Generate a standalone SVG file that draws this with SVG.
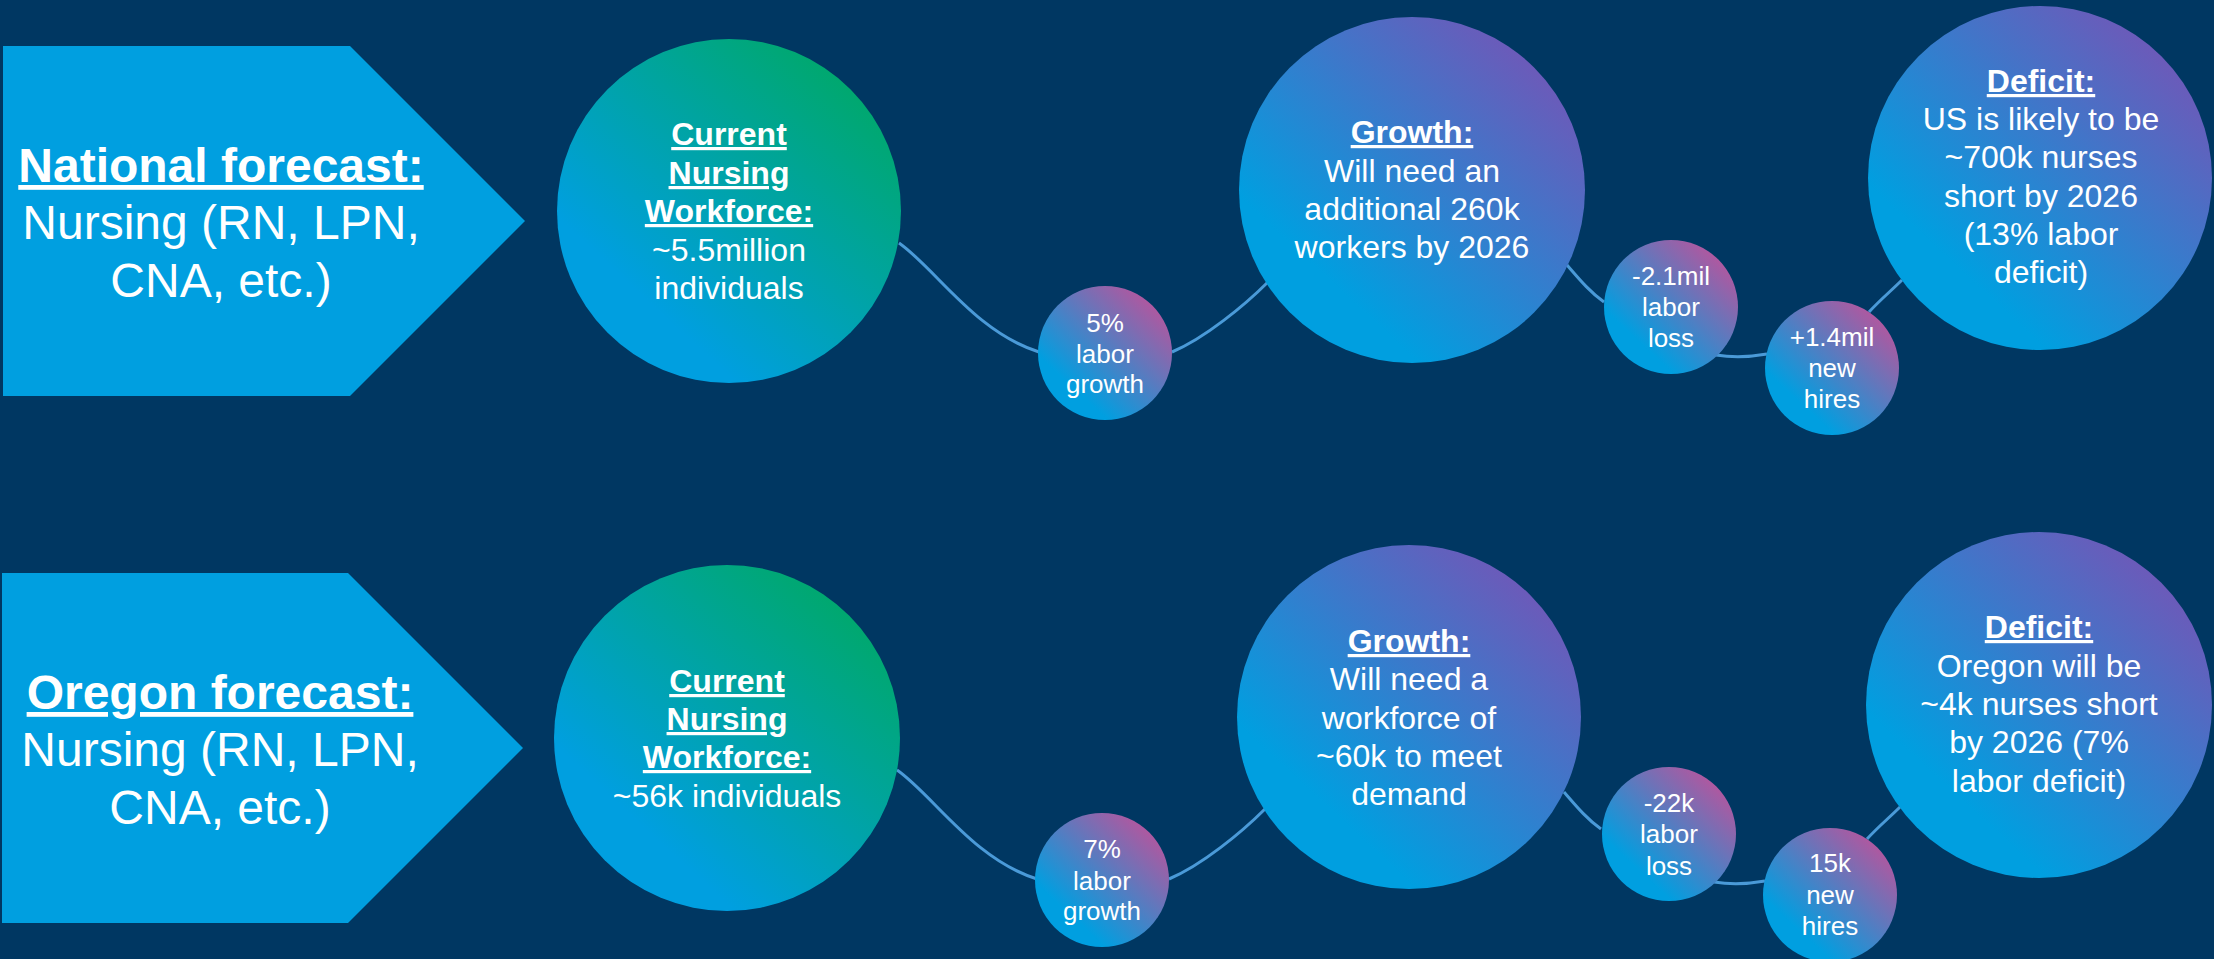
<svg xmlns="http://www.w3.org/2000/svg" width="2214" height="959" viewBox="0 0 2214 959">
  <defs>
    <linearGradient id="gGreen" x1="0.25" y1="0.75" x2="0.85" y2="0.1">
      <stop offset="0" stop-color="#009fe0"/>
      <stop offset="1" stop-color="#00a86b"/>
    </linearGradient>
    <linearGradient id="gPurple" x1="0.25" y1="0.75" x2="0.85" y2="0.1">
      <stop offset="0" stop-color="#009fe0"/>
      <stop offset="1" stop-color="#6f58b8"/>
    </linearGradient>
    <linearGradient id="gPink" x1="0.25" y1="0.75" x2="0.85" y2="0.1">
      <stop offset="0" stop-color="#009fe0"/>
      <stop offset="1" stop-color="#b4569e"/>
    </linearGradient>
    <style>
      .bg { fill: #003762; }
      .arrow { fill: #009fe0; }
      .t { font-family: "Liberation Sans", Arial, sans-serif; fill: #ffffff; text-anchor: middle; }
      .big { font-size: 48px; }
      .mid { font-size: 32px; }
      .sml { font-size: 26px; }
      .b { font-weight: bold; text-decoration: underline; }
      .conn { fill: none; stroke: #4a9ad8; stroke-width: 3; }
    </style>
  </defs>
  <rect class="bg" x="0" y="0" width="2214" height="959"/>

  <g id="connectors">
    <path class="conn" d="M899,243 C935,268 975,332 1039,352"/>
    <path class="conn" d="M1172,352 C1205,338 1245,305 1268,282"/>
    <path class="conn" d="M1567,265 C1580,280 1590,292 1604,302"/>
    <path class="conn" d="M1716,355 C1735,358 1750,357 1767,354" stroke-width="4"/>
    <path class="conn" d="M1869,312 C1880,300 1892,290 1902,280"/>

    <path class="conn" d="M897,770 C933,795 973,859 1037,879"/>
    <path class="conn" d="M1169,879 C1202,865 1242,832 1265,809"/>
    <path class="conn" d="M1564,792 C1577,807 1587,819 1601,829"/>
    <path class="conn" d="M1714,882 C1733,885 1748,884 1765,881" stroke-width="4"/>
    <path class="conn" d="M1867,839 C1878,827 1890,817 1900,807"/>
  </g>

  <g id="national-arrow">
    <polygon class="arrow" points="3,46 350,46 525,221 350,396 3,396"/>
    <text class="t big b" x="221" y="182">National forecast:</text>
    <text class="t big" x="221" y="239">Nursing (RN, LPN,</text>
    <text class="t big" x="221" y="297">CNA, etc.)</text>
  </g>

  <g id="national-current">
    <circle cx="729" cy="211" r="172" fill="url(#gGreen)"/>
    <text class="t mid b" x="729" y="145">Current</text>
    <text class="t mid b" x="729" y="184">Nursing</text>
    <text class="t mid b" x="729" y="222">Workforce:</text>
    <text class="t mid" x="729" y="261">~5.5million</text>
    <text class="t mid" x="729" y="299">individuals</text>
  </g>

  <g id="national-labor-growth">
    <circle cx="1105" cy="353" r="67" fill="url(#gPink)"/>
    <text class="t sml" x="1105" y="332">5%</text>
    <text class="t sml" x="1105" y="363">labor</text>
    <text class="t sml" x="1105" y="393">growth</text>
  </g>

  <g id="national-growth">
    <circle cx="1412" cy="190" r="173" fill="url(#gPurple)"/>
    <text class="t mid b" x="1412" y="143">Growth:</text>
    <text class="t mid" x="1412" y="182">Will need an</text>
    <text class="t mid" x="1412" y="220">additional 260k</text>
    <text class="t mid" x="1412" y="258">workers by 2026</text>
  </g>

  <g id="national-labor-loss">
    <circle cx="1671" cy="307" r="67" fill="url(#gPink)"/>
    <text class="t sml" x="1671" y="285">-2.1mil</text>
    <text class="t sml" x="1671" y="316">labor</text>
    <text class="t sml" x="1671" y="347">loss</text>
  </g>

  <g id="national-new-hires">
    <circle cx="1832" cy="368" r="67" fill="url(#gPink)"/>
    <text class="t sml" x="1832" y="346">+1.4mil</text>
    <text class="t sml" x="1832" y="377">new</text>
    <text class="t sml" x="1832" y="408">hires</text>
  </g>

  <g id="national-deficit">
    <circle cx="2040" cy="178" r="172" fill="url(#gPurple)"/>
    <text class="t mid b" x="2041" y="92">Deficit:</text>
    <text class="t mid" x="2041" y="130">US is likely to be</text>
    <text class="t mid" x="2041" y="168">~700k nurses</text>
    <text class="t mid" x="2041" y="207">short by 2026</text>
    <text class="t mid" x="2041" y="245">(13% labor</text>
    <text class="t mid" x="2041" y="283">deficit)</text>
  </g>

  <g id="oregon-arrow">
    <polygon class="arrow" points="2,573 348,573 523,748 348,923 2,923"/>
    <text class="t big b" x="220" y="709">Oregon forecast:</text>
    <text class="t big" x="220" y="766">Nursing (RN, LPN,</text>
    <text class="t big" x="220" y="824">CNA, etc.)</text>
  </g>

  <g id="oregon-current">
    <circle cx="727" cy="738" r="173" fill="url(#gGreen)"/>
    <text class="t mid b" x="727" y="692">Current</text>
    <text class="t mid b" x="727" y="730">Nursing</text>
    <text class="t mid b" x="727" y="768">Workforce:</text>
    <text class="t mid" x="727" y="807">~56k individuals</text>
  </g>

  <g id="oregon-labor-growth">
    <circle cx="1102" cy="880" r="67" fill="url(#gPink)"/>
    <text class="t sml" x="1102" y="858">7%</text>
    <text class="t sml" x="1102" y="890">labor</text>
    <text class="t sml" x="1102" y="920">growth</text>
  </g>

  <g id="oregon-growth">
    <circle cx="1409" cy="717" r="172" fill="url(#gPurple)"/>
    <text class="t mid b" x="1409" y="652">Growth:</text>
    <text class="t mid" x="1409" y="690">Will need a</text>
    <text class="t mid" x="1409" y="729">workforce of</text>
    <text class="t mid" x="1409" y="767">~60k to meet</text>
    <text class="t mid" x="1409" y="805">demand</text>
  </g>

  <g id="oregon-labor-loss">
    <circle cx="1669" cy="834" r="67" fill="url(#gPink)"/>
    <text class="t sml" x="1669" y="812">-22k</text>
    <text class="t sml" x="1669" y="843">labor</text>
    <text class="t sml" x="1669" y="875">loss</text>
  </g>

  <g id="oregon-new-hires">
    <circle cx="1830" cy="895" r="67" fill="url(#gPink)"/>
    <text class="t sml" x="1830" y="872">15k</text>
    <text class="t sml" x="1830" y="904">new</text>
    <text class="t sml" x="1830" y="935">hires</text>
  </g>

  <g id="oregon-deficit">
    <circle cx="2039" cy="705" r="173" fill="url(#gPurple)"/>
    <text class="t mid b" x="2039" y="638">Deficit:</text>
    <text class="t mid" x="2039" y="677">Oregon will be</text>
    <text class="t mid" x="2039" y="715">~4k nurses short</text>
    <text class="t mid" x="2039" y="753">by 2026 (7%</text>
    <text class="t mid" x="2039" y="792">labor deficit)</text>
  </g>
</svg>
